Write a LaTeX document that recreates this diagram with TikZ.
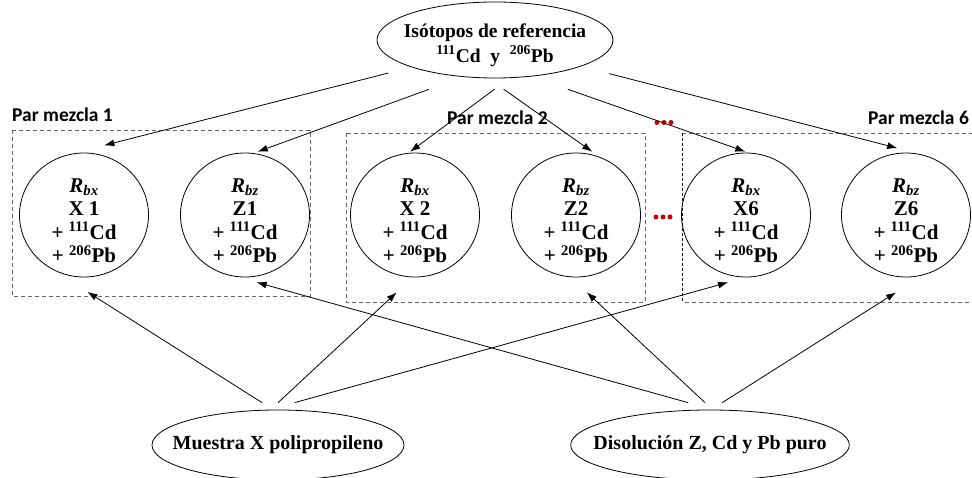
\documentclass[tikz,border=0pt]{standalone}
\usepackage{fontspec}
\setmainfont{Liberation Serif}
\newfontfamily\labfont{Carlito}
\usetikzlibrary{shapes.geometric,arrows.meta}
\newcommand{\mixtext}[2]{\rule{0pt}{25.5pt}\textit{R}\textsubscript{\textit{#1}}\\#2\\+ \textsuperscript{111}Cd\\+ \textsuperscript{206}Pb}
\begin{document}
\begin{tikzpicture}[x=1pt,y=-1pt,
  txt/.style={font=\bfseries\fontsize{19.5}{23}\selectfont, align=center},
  oval/.style={txt, ellipse, draw, line width=0.8pt},
  mixnode/.style={oval, minimum width=129pt, minimum height=124pt, inner xsep=-4pt, inner ysep=-8pt,
                  font=\bfseries\fontsize{21}{23.5}\selectfont},
  conn/.style={-{Latex[length=10pt,width=7pt]}, line width=0.8pt},
  pairbox/.style={draw=black!60, dash pattern=on 4pt off 3pt, line width=0.8pt},
  pairedge/.style={draw=black, dash pattern=on 3pt off 2pt, line width=0.7pt},
  pairlabel/.style={font=\labfont\bfseries\fontsize{19.5}{21}\selectfont, anchor=base west, inner sep=0pt},
  reddot/.style={fill=red!80!black, draw=none}
]
\useasboundingbox (0,0) rectangle (972,478);
\clip (0,0) rectangle (972,478);

% pair boxes
\draw[pairbox] (12,130) rectangle (310,296);
\draw[pairbox] (346,133) rectangle (645,302);
\draw[pairbox] (682,133) -- (990,133) (990,302) -- (682,302);
\draw[pairedge] (682,133) -- (682,302);

% labels
\node[pairlabel] (p1) at (12,121.5) {Par mezcla 1};
\node[pairlabel] (p2) at (447,125) {Par mezcla 2};
\node[pairlabel] (p6) at (868,125) {Par mezcla 6};

% top node
\node[oval, minimum width=236pt, minimum height=76pt, inner xsep=-10pt, inner ysep=-2pt,
      font=\bfseries\fontsize{19.5}{25}\selectfont] (ref) at (495,40)
  {\rule{0pt}{24pt}Isótopos de referencia\\\textsuperscript{111}Cd~~y~~\textsuperscript{206}Pb};

% mixture nodes
\node[mixnode] (c1) at (84,215)  {\mixtext{bx}{X 1}};
\node[mixnode] (c2) at (245,215) {\mixtext{bz}{Z1}};
\node[mixnode] (c3) at (415,215) {\mixtext{bx}{X 2}};
\node[mixnode] (c4) at (576,215) {\mixtext{bz}{Z2}};
\node[mixnode] (c5) at (746,215) {\mixtext{bx}{X6}};
\node[mixnode] (c6) at (906,215) {\mixtext{bz}{Z6}};

% bottom nodes
\node[oval, minimum width=252pt, minimum height=70pt, inner xsep=-18pt, inner ysep=0pt,
      font=\bfseries\fontsize{20}{23}\selectfont] (muestra) at (278,445) {Muestra X polipropileno};
\node[oval, minimum width=252pt, minimum height=70pt, inner xsep=-18pt, inner ysep=0pt,
      font=\bfseries\fontsize{20}{23}\selectfont] (disol) at (710,445) {Disolución Z, Cd y Pb puro};

% red ellipsis dots
\foreach \x in {657,664,671} \fill[reddot] (\x,122.5) circle[radius=2.5pt];
\foreach \x in {656,663,670} \fill[reddot] (\x,217) circle[radius=2.5pt];

% arrows from reference isotopes
\draw[conn, shorten <=23.8pt, shorten >=35.5pt] (ref.198.5) -- (c1.103.7);
\draw[conn, shorten <=36.2pt, shorten >=4.3pt] (ref.229.7) -- (c2.82.6);
\draw[conn, shorten <=18.7pt, shorten >=2.1pt] (ref.291.6) -- (c3.96.2);
\draw[conn, shorten <=18.9pt, shorten >=8.9pt] (ref.260.4) -- (c4.68.1);
\draw[conn, shorten <=38.5pt, shorten >=3pt] (ref.315.5) -- (c5.88.3);
\draw[conn, shorten <=29pt, shorten >=24.7pt] (ref.343.2) -- (c6.76);

% arrows from sample and solution
\draw[conn, shorten <=13pt, shorten >=44.8pt] (muestra.98.1) -- (c1.237.4);
\draw[conn, shorten <=10.3pt, shorten >=22pt] (muestra.102.1) -- (c3.268.2);
\draw[conn, shorten <=26.3pt, shorten >=18.7pt] (muestra.104.9) -- (c5.270.9);
\draw[conn, shorten <=25.9pt, shorten >=20pt] (disol.85.3) -- (c2.263.3);
\draw[conn, shorten <=10.2pt, shorten >=22.2pt] (disol.86.1) -- (c4.265.2);
\draw[conn, shorten <=13.1pt, shorten >=32.2pt] (disol.88.5) -- (c6.286);
\end{tikzpicture}
\end{document}
